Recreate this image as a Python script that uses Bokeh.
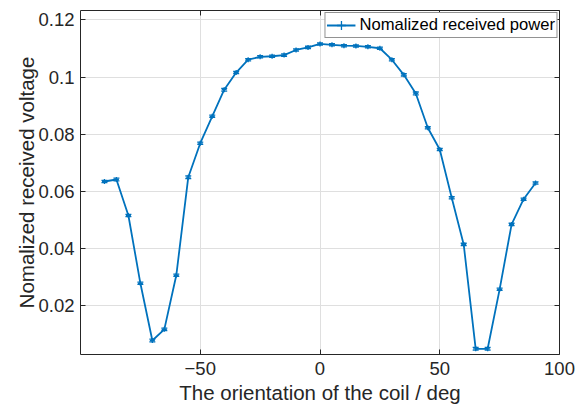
from bokeh.plotting import figure
from bokeh.models import (ColumnDataSource, Range1d, LinearAxis, FixedTicker,
                          Legend, LegendItem)
from bokeh.embed import file_html
from bokeh.resources import INLINE

# ---- data ----
angle = [-90, -85, -80, -75, -70, -65, -60, -55, -50, -45, -40, -35, -30,
         -25, -20, -15, -10, -5, 0, 5, 10, 15, 20, 25, 30, 35, 40, 45, 50,
         55, 60, 65, 70, 75, 80, 85, 90]
voltage = [0.0635, 0.0642, 0.0516, 0.0279, 0.0079, 0.0118, 0.0307, 0.0650,
           0.0769, 0.0863, 0.0956, 0.1016, 0.1061, 0.1071, 0.1073, 0.1077,
           0.1095, 0.1104, 0.1116, 0.1113, 0.1110, 0.1109, 0.1106, 0.1101,
           0.1061, 0.1008, 0.0943, 0.0823, 0.0747, 0.0578, 0.0415, 0.0050,
           0.0050, 0.0258, 0.0485, 0.0573, 0.0630]
error = [0.0004, 0.0005, 0.0004, 0.0004, 0.0005, 0.0004, 0.0004, 0.0005,
         0.0004, 0.0004, 0.0005, 0.0004, 0.0004, 0.0004, 0.0004, 0.0004,
         0.0004, 0.0004, 0.0004, 0.0004, 0.0004, 0.0004, 0.0004, 0.0004,
         0.0004, 0.0004, 0.0005, 0.0004, 0.0004, 0.0004, 0.0004, 0.0005,
         0.0005, 0.0004, 0.0004, 0.0004, 0.0004]

x_ticks = [-50, 0, 50, 100]
y_ticks = [0.02, 0.04, 0.06, 0.08, 0.1, 0.12]
y_tick_labels = ["0.02", "0.04", "0.06", "0.08", "0.1", "0.12"]

series_label = "Nomalized received power"
x_title = "The orientation of the coil / deg"
y_title = "Nomalized received voltage"

# ---- styling ----
BLUE = "#0072BD"
AXC = "#262626"
GRID = "#dfdfdf"
FONT = "Liberation Sans"

lo = [v - e for v, e in zip(voltage, error)]
hi = [v + e for v, e in zip(voltage, error)]
src = ColumnDataSource(dict(x=angle, y=voltage, lo=lo, hi=hi))

p = figure(width=578, height=406,
           x_range=Range1d(-100, 100), y_range=Range1d(0.003, 0.1233),
           output_backend="svg", toolbar_location=None,
           min_border_left=80, min_border_right=19,
           min_border_top=10, min_border_bottom=52)
p.outline_line_color = None
p.background_fill_color = "white"
p.border_fill_color = "white"

bottom_ax = p.xaxis[0]
left_ax = p.yaxis[0]

bottom_ax.ticker = FixedTicker(ticks=x_ticks)
left_ax.ticker = FixedTicker(ticks=y_ticks)
left_ax.major_label_overrides = {t: s for t, s in zip(y_ticks, y_tick_labels)}
p.xgrid.ticker = FixedTicker(ticks=x_ticks)
p.ygrid.ticker = FixedTicker(ticks=y_ticks)
p.xgrid.grid_line_color = GRID
p.ygrid.grid_line_color = GRID
p.xgrid.grid_line_width = 1
p.ygrid.grid_line_width = 1

top_ax = LinearAxis(ticker=FixedTicker(ticks=x_ticks),
                    major_label_overrides={t: "" for t in x_ticks})
right_ax = LinearAxis(ticker=FixedTicker(ticks=y_ticks),
                      major_label_overrides={t: "" for t in y_ticks})
p.add_layout(top_ax, "above")
p.add_layout(right_ax, "right")

for ax in [bottom_ax, left_ax, top_ax, right_ax]:
    ax.axis_line_color = AXC
    ax.axis_line_width = 1
    ax.major_tick_line_color = AXC
    ax.major_tick_line_width = 1
    ax.major_tick_in = 5
    ax.major_tick_out = 0
    ax.minor_tick_line_color = None
    ax.major_label_text_font = FONT
    ax.major_label_text_font_size = "18.5px"
    ax.major_label_text_color = AXC

for ax in [top_ax, right_ax]:
    ax.major_label_text_font_size = "1px"
    ax.major_label_standoff = 0

bottom_ax.major_label_standoff = 7
left_ax.major_label_standoff = 6

bottom_ax.axis_label = x_title
left_ax.axis_label = y_title
for ax in [bottom_ax, left_ax]:
    ax.axis_label_text_font = FONT
    ax.axis_label_text_font_size = "20.5px"
    ax.axis_label_text_font_style = "normal"
    ax.axis_label_text_color = AXC
bottom_ax.axis_label_standoff = 3
left_ax.axis_label_standoff = -3

# ---- glyphs ----
line_r = p.line("x", "y", source=src, line_color=BLUE, line_width=1.8)
p.segment(x0="x", y0="lo", x1="x", y1="hi", source=src,
          line_color=BLUE, line_width=1.2)
p.scatter("x", "lo", source=src, marker="dash", size=6,
          line_color=BLUE, line_width=1.3)
p.scatter("x", "hi", source=src, marker="dash", size=6,
          line_color=BLUE, line_width=1.3)
cross_r = p.scatter("x", "y", source=src, marker="cross", size=5,
                    line_color=BLUE, line_width=1.3)

legend = Legend(items=[LegendItem(label=series_label,
                                  renderers=[line_r, cross_r])],
                location="top_right", margin=2, padding=1, spacing=0,
                glyph_width=29, glyph_height=22, label_height=22,
                label_standoff=4,
                label_text_font=FONT, label_text_font_size="16.6px",
                label_text_color="#000000",
                border_line_color=AXC, border_line_width=1,
                background_fill_color="white", background_fill_alpha=1.0)
p.add_layout(legend)

open("out.html", "w").write(file_html(p, INLINE))
